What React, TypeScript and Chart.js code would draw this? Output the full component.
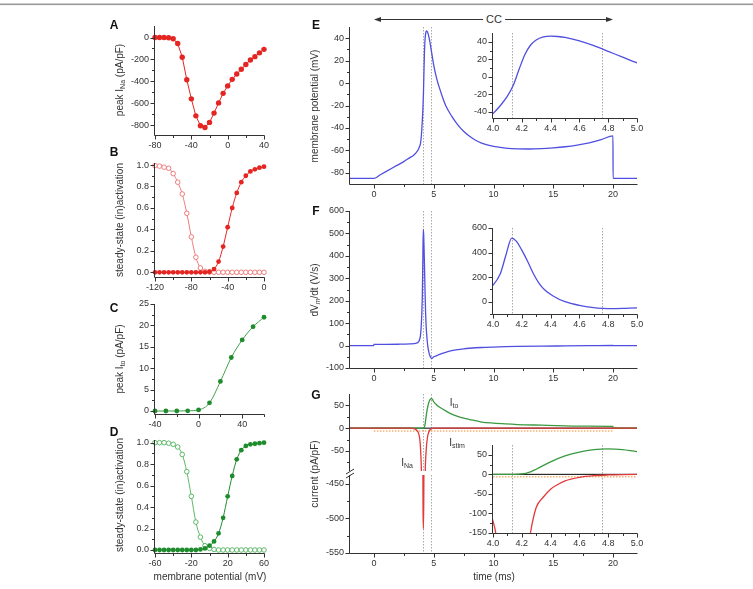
import React, { useEffect, useRef } from 'react';
import { Chart, registerables } from 'chart.js';
Chart.register(...registerables);

// ---------------- DATA ----------------
// A: peak I_Na vs membrane potential
const naIV_mV = [-80,-75,-70,-65,-60,-55,-50,-45,-40,-35,-30,-25,-20,-15,-10,-5,0,5,10,15,20,25,30,35,40];
const naIV_pApF = [0,0,0,-2,-12,-55,-180,-385,-560,-715,-805,-822,-775,-690,-597,-510,-442,-382,-333,-290,-246,-206,-175,-140,-108];

// B: Na steady-state activation / inactivation
const naSS_mV = [-120,-115,-110,-105,-100,-95,-90,-85,-80,-75,-70,-65,-60,-55,-50,-45,-40,-35,-30,-25,-20,-15,-10,-5,0];
const naInact = [0.995,0.99,0.98,0.97,0.92,0.84,0.73,0.55,0.33,0.14,0.04,0.008,0.002,0,0,0,0,0,0,0,0,0,0,0,0];
const naAct = [0,0,0,0,0,0,0,0,0,0,0,0,0.005,0.03,0.1,0.24,0.42,0.6,0.74,0.84,0.9,0.94,0.96,0.975,0.985];

// C: peak I_to vs membrane potential
const toIV_mV = [-40,-30,-20,-10,0,10,20,30,40,50,60];
const toIV_pApF = [0,0,0,0.05,0.25,1.9,6.9,12.5,16.6,19.7,21.9];

// D: I_to steady-state activation / inactivation
const toSS_mV = [-60,-55,-50,-45,-40,-35,-30,-25,-20,-15,-10,-5,0,5,10,15,20,25,30,35,40,45,50,55,60];
const toInact = [1,1,1,0.995,0.985,0.96,0.89,0.73,0.5,0.26,0.12,0.04,0.015,0.005,0,0,0,0,0,0,0,0,0,0,0];
const toAct = [0,0,0,0,0,0,0,0,0,0,0.005,0.015,0.04,0.08,0.155,0.3,0.5,0.69,0.845,0.93,0.97,0.985,0.99,0.995,1];

// E: membrane potential (mV) vs time (ms)
const vm_t = [-2,0,0.5,1,1.5,2,2.5,3,3.3,3.5,3.7,3.8,3.9,3.95,4.0,4.05,4.1,4.14,4.18,4.22,4.26,4.3,4.35,4.4,4.45,4.5,4.6,4.7,4.8,4.9,5.0,5.25,5.5,5.75,6.0,6.5,7,7.5,8,8.5,9,10,11,12,13,14,15,16,17,18,19,19.99,20,22];
const vm_mV = [-85,-85,-82,-79,-76,-73,-70,-66.5,-64.5,-62.5,-59.5,-57,-53.5,-49,-42,-33,-22,-10,8,25,36,42,45.5,46.5,46,45,41,35.5,29,22.5,16,4,-5,-13,-20,-29.5,-37,-43,-47.5,-51,-53.5,-56.5,-58,-58.7,-58.8,-58.5,-57.8,-56.8,-55.3,-53.3,-50.5,-47,-85,-85];

// F: dVm/dt (V/s) vs time (ms)
const dv_t = [-2,-0.01,0,1,2,3,3.5,3.7,3.8,3.9,3.95,4.0,4.05,4.09,4.13,4.16,4.2,4.24,4.28,4.32,4.36,4.42,4.5,4.6,4.7,4.76,4.82,4.9,5.0,5.25,5.5,6,6.5,7,7.5,8,9,10,11,12,14,16,18,19.99,20.01,22];
const dv_Vs = [0,0,5,5.5,6,7.5,10,15,24,48,82,135,225,380,518,495,420,330,230,150,95,45,0,-30,-48,-54,-57,-55,-50,-45,-39,-30,-23,-18,-14.5,-12,-8.5,-6.5,-5,-4,-2.5,-1.5,-0.5,0.5,0,0];

// G: currents (pA/pF) vs time (ms)
const ito_t = [-2,4.15,4.2,4.25,4.3,4.4,4.5,4.6,4.7,4.8,4.9,5.0,5.25,5.5,6,6.5,7,7.5,8,9,10,11,12,14,16,18,19.99,20.01,22];
const ito_pApF = [0,0,1,5,13,32,47,57,63,65,63,58,51,46,38,31,26,22,19,13.5,11,9.3,8,6.5,5.1,4.4,3.8,0,0];
const ina_t = [-2,3.0,3.2,3.4,3.6,3.7,3.8,3.85,3.9,3.95,4.0,4.02,4.05,4.08,4.11,4.14,4.17,4.2,4.23,4.26,4.3,4.35,4.4,4.45,4.5,4.6,4.7,4.8,4.9,5.0,22];
const ina_pApF = [0,0,-0.5,-1.5,-5,-9,-18,-28,-45,-75,-120,-152,-250,-380,-490,-515,-470,-350,-230,-150,-85,-58,-38,-26,-17,-8,-3.5,-1.5,-0.5,0,0];
const istim_t = [0,20];
const istim_pApF = [-6,-6];
const zero_t = [-2,22];
const zero_pApF = [0,0];

const markerTimes = [4.13, 4.76];

// ---------------- TICKS ----------------
const tickA_x = [-80,-40,0,40]; const minorA_x = [-60,-20,20];
const tickA_y = [-800,-600,-400,-200,0]; const minorA_y = [-700,-500,-300,-100];
const tickB_x = [-120,-80,-40,0]; const minorB_x = [-100,-60,-20];
const tickSS_y = [0,0.2,0.4,0.6,0.8,1.0]; const minorSS_y = [0.1,0.3,0.5,0.7,0.9];
const tickC_x = [-40,0,40]; const minorC_x = [-20,20,60];
const tickC_y = [0,5,10,15,20,25]; const minorC_y = [2.5,7.5,12.5,17.5,22.5];
const tickD_x = [-60,-20,20,60]; const minorD_x = [-40,0,40];
const tickT_x = [0,5,10,15,20]; const minorT_x = [2.5,7.5,12.5,17.5];
const tickIn_x = [4.0,4.2,4.4,4.6,4.8,5.0]; const minorIn_x = [4.1,4.3,4.5,4.7,4.9];
const tickE_y = [-80,-60,-40,-20,0,20,40]; const minorE_y = [-70,-50,-30,-10,10,30];
const tickEi_y = [-40,-20,0,20,40]; const minorEi_y = [-30,-10,10,30];
const tickF_y = [-100,0,100,200,300,400,500,600]; const minorF_y = [-50,50,150,250,350,450,550];
const tickFi_y = [0,200,400,600]; const minorFi_y = [-100,100,300,500];
const tickGt_y = [-50,0,50]; const minorGt_y = [-75,-25,25];
const tickGb_y = [-550,-500,-450]; const minorGb_y = [-525,-475];
const tickGi_y = [-150,-100,-50,0,50]; const minorGi_y = [-125,-75,-25,25];

// ---------------- STYLE ----------------
const FONT = "'Liberation Sans', Arial, Helvetica, sans-serif";
const INK = '#333333';
const RED = '#e52521';
const RED_LIGHT = '#f07c7c';
const GREEN = '#1e8c2c';
const GREEN_LINE = '#3ea24a';
const GREEN_LIGHT = '#5cb868';
const BLUE = '#4f4fe0';
const G_GREEN = '#3a9a40';
const G_RED = '#e23a3a';
const STIM = '#f5b070';

const pts = (xs: number[], ys: number[]) => xs.map((x, i) => ({ x, y: ys[i] }));

type AxisCfg = { min: number; max: number; labels: number[]; minor: number[]; dec?: number; show?: boolean };
type Spec = { rect: { l: number; t: number; r: number; b: number }; x: AxisCfg; y: AxisCfg; datasets: any[]; markers?: number[] };

const trace = (xs: number[], ys: number[], color: string, width = 1.3, extra: any = {}) => ({
  data: pts(xs, ys), borderColor: color, backgroundColor: color, borderWidth: width,
  pointRadius: 0, cubicInterpolationMode: 'monotone', clip: 0, ...extra,
});
const filled = (xs: number[], ys: number[], color: string, line: string, r = 2.4) => ({
  data: pts(xs, ys), borderColor: line, backgroundColor: color, borderWidth: 1,
  pointRadius: r, pointBackgroundColor: color, pointBorderColor: color, pointBorderWidth: 0,
  cubicInterpolationMode: 'monotone', clip: 4,
});
const open = (xs: number[], ys: number[], color: string, r = 2.3) => ({
  data: pts(xs, ys), borderColor: color, backgroundColor: '#ffffff', borderWidth: 1,
  pointRadius: r, pointBackgroundColor: '#ffffff', pointBorderColor: color, pointBorderWidth: 1,
  cubicInterpolationMode: 'monotone', clip: 4,
});

const X_TIME = { min: -2, max: 22, labels: tickT_x, minor: minorT_x };
const X_IN = { min: 4, max: 5, labels: tickIn_x, minor: minorIn_x, dec: 1 };
const stimStyle = { borderDash: [1.5, 1.5], cubicInterpolationMode: 'default' };

const SPECS: Spec[] = [
  { rect: { l: 155, t: 26, r: 264, b: 135 },
    x: { min: -80, max: 40, labels: tickA_x, minor: minorA_x },
    y: { min: -890, max: 105, labels: tickA_y, minor: minorA_y },
    datasets: [{ ...filled(naIV_mV, naIV_pApF, RED, RED, 2.7), cubicInterpolationMode: 'default', tension: 0 }] },
  { rect: { l: 155, t: 163, r: 264, b: 277 },
    x: { min: -120, max: 0, labels: tickB_x, minor: minorB_x },
    y: { min: -0.044, max: 1.019, labels: tickSS_y, minor: minorSS_y, dec: 1 },
    datasets: [filled(naSS_mV, naAct, RED, RED), open(naSS_mV, naInact, RED_LIGHT)] },
  { rect: { l: 155, t: 304, r: 264, b: 414 },
    x: { min: -40, max: 60, labels: tickC_x, minor: minorC_x },
    y: { min: -0.7, max: 25, labels: tickC_y, minor: minorC_y },
    datasets: [filled(toIV_mV, toIV_pApF, GREEN, GREEN_LINE, 2.4)] },
  { rect: { l: 155, t: 440, r: 264, b: 553 },
    x: { min: -60, max: 60, labels: tickD_x, minor: minorD_x },
    y: { min: -0.028, max: 1.025, labels: tickSS_y, minor: minorSS_y, dec: 1 },
    datasets: [filled(toSS_mV, toAct, GREEN, GREEN), open(toSS_mV, toInact, GREEN_LIGHT)] },
  // E main + inset
  { rect: { l: 350, t: 27, r: 637, b: 184 }, x: X_TIME,
    y: { min: -90, max: 50, labels: tickE_y, minor: minorE_y },
    datasets: [trace(vm_t, vm_mV, BLUE)], markers: markerTimes },
  { rect: { l: 493, t: 33, r: 637, b: 118 }, x: X_IN,
    y: { min: -47, max: 50, labels: tickEi_y, minor: minorEi_y },
    datasets: [trace(vm_t, vm_mV, BLUE)], markers: markerTimes },
  // F main + inset
  { rect: { l: 350, t: 211, r: 637, b: 368 }, x: X_TIME,
    y: { min: -100, max: 600, labels: tickF_y, minor: minorF_y },
    datasets: [trace(dv_t, dv_Vs, BLUE)], markers: markerTimes },
  { rect: { l: 493, t: 228, r: 637, b: 314 }, x: X_IN,
    y: { min: -100, max: 600, labels: tickFi_y, minor: minorFi_y },
    datasets: [trace(dv_t, dv_Vs, BLUE)], markers: markerTimes },
  // G top (no x axis), G bottom, G inset
  { rect: { l: 350, t: 394, r: 637, b: 471 }, x: { ...X_TIME, show: false },
    y: { min: -94, max: 75, labels: tickGt_y, minor: minorGt_y },
    datasets: [trace(ina_t, ina_pApF, G_RED), trace(ito_t, ito_pApF, G_GREEN),
      trace(zero_t, zero_pApF, '#000000', 1), trace(istim_t, istim_pApF, STIM, 1.5, stimStyle)],
    markers: markerTimes },
  { rect: { l: 350, t: 475, r: 637, b: 553 }, x: X_TIME,
    y: { min: -550, max: -437, labels: tickGb_y, minor: minorGb_y },
    datasets: [trace(ina_t, ina_pApF, G_RED)], markers: markerTimes },
  { rect: { l: 493, t: 445, r: 637, b: 533 }, x: X_IN,
    y: { min: -150, max: 75, labels: tickGi_y, minor: minorGi_y },
    datasets: [trace(ina_t, ina_pApF, G_RED), trace(ito_t, ito_pApF, G_GREEN),
      trace(zero_t, zero_pApF, '#000000', 1), trace(istim_t, istim_pApF, STIM, 1.5, stimStyle)],
    markers: markerTimes },
];

const ML = 42, MT = 14, MR = 16, MB = 24;

function PanelChart({ spec }: { spec: Spec }) {
  const ref = useRef<HTMLCanvasElement | null>(null);
  const showX = spec.x.show !== false;
  const w = spec.rect.r - spec.rect.l + ML + MR;
  const h = spec.rect.b - spec.rect.t + MT + (showX ? MB : MT);
  useEffect(() => {
    const canvas = ref.current;
    if (!canvas) return;
    const fmt = (dec?: number) => (v: any) => (dec ? Number(v).toFixed(dec) : String(Number(v)));
    const axesPlugin = {
      id: 'originAxes',
      beforeDatasetsDraw(chart: any) {
        const { ctx, chartArea: a } = chart;
        const xs = chart.scales.x;
        if (!spec.markers) return;
        ctx.save();
        ctx.strokeStyle = '#a8a8a8';
        ctx.lineWidth = 1;
        ctx.setLineDash([1.5, 1.5]);
        for (const t of spec.markers) {
          const px = Math.round(xs.getPixelForValue(t)) + 0.5;
          ctx.beginPath(); ctx.moveTo(px, a.top); ctx.lineTo(px, a.bottom); ctx.stroke();
        }
        ctx.restore();
      },
      afterDraw(chart: any) {
        const { ctx, chartArea: a } = chart;
        const xs = chart.scales.x, ys = chart.scales.y;
        ctx.save();
        ctx.strokeStyle = INK;
        ctx.lineWidth = 1;
        const L = Math.round(a.left) - 0.5;
        const B = Math.round(a.bottom) + 0.5;
        ctx.beginPath(); ctx.moveTo(L, Math.round(a.top)); ctx.lineTo(L, showX ? B : Math.round(a.bottom)); ctx.stroke();
        if (showX) {
          ctx.beginPath(); ctx.moveTo(L, B); ctx.lineTo(Math.round(a.right) + 0.5, B); ctx.stroke();
          const xt = (vals: number[], len: number) => {
            for (const v of vals) {
              const px = Math.round(xs.getPixelForValue(v)) + 0.5;
              ctx.beginPath(); ctx.moveTo(px, B); ctx.lineTo(px, B + len); ctx.stroke();
            }
          };
          xt(spec.x.labels, 4); xt(spec.x.minor, 2.5);
        }
        const yt = (vals: number[], len: number) => {
          for (const v of vals) {
            const py = Math.round(ys.getPixelForValue(v)) + 0.5;
            ctx.beginPath(); ctx.moveTo(L, py); ctx.lineTo(L - len, py); ctx.stroke();
          }
        };
        yt(spec.y.labels, 4); yt(spec.y.minor, 2.5);
        ctx.restore();
      },
    };
    const tickFont = { family: FONT, size: 9 };
    const chart = new Chart(canvas, {
      type: 'line',
      data: { datasets: spec.datasets },
      options: {
        animation: false,
        responsive: false,
        maintainAspectRatio: false,
        devicePixelRatio: 1,
        events: [],
        layout: { padding: { left: 0, top: MT, right: MR, bottom: showX ? 0 : MT } },
        plugins: { legend: { display: false }, tooltip: { enabled: false } },
        scales: {
          x: {
            type: 'linear', min: spec.x.min, max: spec.x.max, display: showX,
            grid: { display: false, drawTicks: false }, border: { display: false },
            afterBuildTicks: (s: any) => { s.ticks = spec.x.labels.map((v) => ({ value: v })); },
            afterFit: (s: any) => { s.height = showX ? MB : 0; },
            ticks: { color: INK, font: tickFont, padding: 5, maxRotation: 0, autoSkip: false, callback: fmt(spec.x.dec) },
          },
          y: {
            type: 'linear', min: spec.y.min, max: spec.y.max,
            grid: { display: false, drawTicks: false }, border: { display: false },
            afterBuildTicks: (s: any) => { s.ticks = spec.y.labels.map((v) => ({ value: v })); },
            afterFit: (s: any) => { s.width = ML; },
            ticks: { color: INK, font: tickFont, padding: 6, autoSkip: false, callback: fmt(spec.y.dec) },
          },
        },
      } as any,
      plugins: [axesPlugin],
    });
    return () => chart.destroy();
  }, [spec]);
  return (
    <canvas ref={ref} width={w} height={h}
      style={{ position: 'absolute', left: spec.rect.l - ML, top: spec.rect.t - MT, width: w, height: h }} />
  );
}

const Sub = ({ children, italic }: { children: any; italic?: boolean }) => (
  <span style={{ fontSize: 7, position: 'relative', top: 2, fontStyle: italic ? 'italic' : 'normal' }}>{children}</span>
);

function VTitle({ x, y, children }: { x: number; y: number; children: any }) {
  return (
    <div style={{ position: 'absolute', left: x, top: y, transform: 'translate(-50%,-50%) rotate(-90deg)',
      whiteSpace: 'nowrap', font: `10px ${FONT}`, color: INK, lineHeight: '12px' }}>{children}</div>
  );
}
function Txt({ x, y, children, size = 10, bold = false, bg }: { x: number; y: number; children: any; size?: number; bold?: boolean; bg?: string }) {
  return (
    <div style={{ position: 'absolute', left: x, top: y, transform: 'translate(-50%,-50%)', whiteSpace: 'nowrap',
      font: `${bold ? 'bold ' : ''}${size}px ${FONT}`, color: bold ? '#111' : INK, lineHeight: `${size + 2}px`,
      background: bg, padding: bg ? '0 3px' : 0 }}>{children}</div>
  );
}

export default function App() {
  return (
    <div style={{ position: 'absolute', left: 0, top: 0, width: 753, height: 589, background: '#ffffff', overflow: 'hidden' }}>
      {SPECS.map((s, i) => <PanelChart key={i} spec={s} />)}
      <svg width={753} height={589} style={{ position: 'absolute', left: 0, top: 0, pointerEvents: 'none' }}>
        <rect x={0} y={3.5} width={753} height={1.6} fill="#9a9a9a" />
        <line x1={380} y1={19.5} x2={607} y2={19.5} stroke={INK} strokeWidth={1} />
        <polygon points="374,19.5 381,17 381,22" fill={INK} />
        <polygon points="613,19.5 606,17 606,22" fill={INK} />
        <line x1={346} y1={474} x2={354} y2={469} stroke={INK} strokeWidth={1} />
        <line x1={346} y1={478} x2={354} y2={473} stroke={INK} strokeWidth={1} />
      </svg>
      <Txt x={494} y={19} size={11} bg="#ffffff">CC</Txt>
      <Txt x={114} y={25} size={12} bold>A</Txt>
      <Txt x={114} y={152} size={12} bold>B</Txt>
      <Txt x={114} y={308} size={12} bold>C</Txt>
      <Txt x={114} y={432} size={12} bold>D</Txt>
      <Txt x={316} y={25} size={12} bold>E</Txt>
      <Txt x={316} y={211} size={12} bold>F</Txt>
      <Txt x={316} y={395} size={12} bold>G</Txt>
      <VTitle x={120} y={80}>peak I<Sub>Na</Sub> (pA/pF)</VTitle>
      <VTitle x={120} y={220}>steady-state (in)activation</VTitle>
      <VTitle x={120} y={359}>peak I<Sub>to</Sub> (pA/pF)</VTitle>
      <VTitle x={120} y={495}>steady-state (in)activation</VTitle>
      <VTitle x={315} y={106}>membrane potential (mV)</VTitle>
      <VTitle x={315} y={290}>dV<Sub italic>m</Sub>/dt (V/s)</VTitle>
      <VTitle x={315} y={474}>current (pA/pF)</VTitle>
      <Txt x={210} y={577}>membrane potential (mV)</Txt>
      <Txt x={494} y={577}>time (ms)</Txt>
      <Txt x={454} y={403}>I<Sub>to</Sub></Txt>
      <Txt x={407} y={463}>I<Sub>Na</Sub></Txt>
      <Txt x={457} y={443}>I<Sub>stim</Sub></Txt>
    </div>
  );
}
